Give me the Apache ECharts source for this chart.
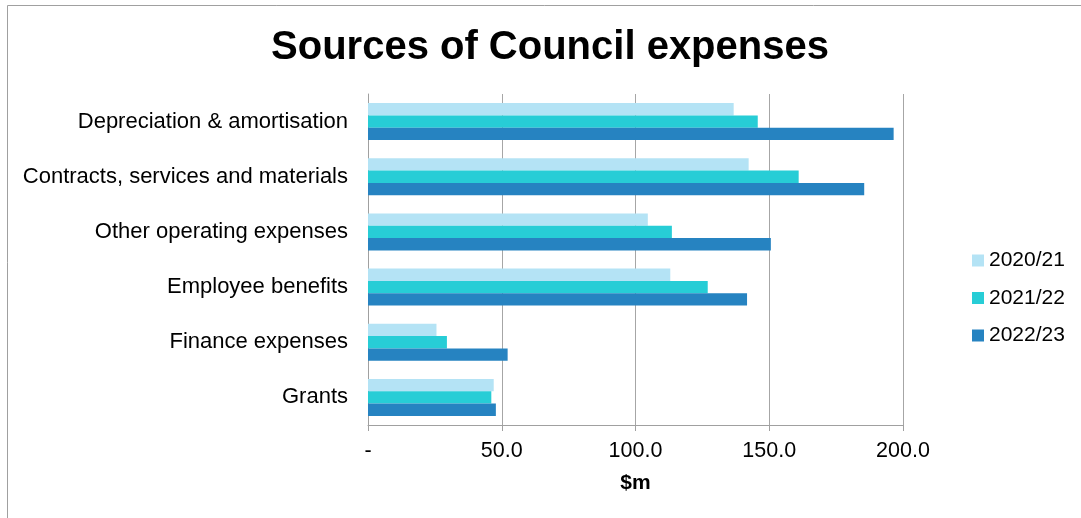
<!DOCTYPE html>
<html>
<head>
<meta charset="utf-8">
<script src="https://cdn.jsdelivr.net/npm/echarts@6/dist/echarts.min.js"></script>
<style>
  html, body { margin: 0; padding: 0; background: #ffffff; }
  #chart { width: 1081px; height: 518px; }
</style>
</head>
<body>
<div id="chart"></div>
<script>
// Expense categories, top to bottom
const categories = [
  'Depreciation & amortisation',
  'Contracts, services and materials',
  'Other operating expenses',
  'Employee benefits',
  'Finance expenses',
  'Grants'
];

// Expenses in $m by financial year
const fy2021 = [136.7, 142.3, 104.6, 113.0, 25.6, 47.0];
const fy2122 = [145.7, 161.0, 113.6, 127.0, 29.5, 46.1];
const fy2223 = [196.5, 185.5, 150.6, 141.7, 52.2, 47.8];

const seriesNames = ['2020/21', '2021/22', '2022/23'];
const seriesColors = ['#B4E3F5', '#27CDD6', '#2683C1'];

const FONT = '"Liberation Sans", Arial, sans-serif';

const chart = echarts.init(document.getElementById('chart'), null, { renderer: 'canvas' });

const seriesData = [fy2021, fy2122, fy2223];

chart.setOption({
  animation: false,
  backgroundColor: '#ffffff',
  textStyle: { fontFamily: FONT },
  graphic: [{
    type: 'rect',
    shape: { x: 7.5, y: 5.5, width: 1090, height: 530 },
    style: { fill: 'none', stroke: '#A0A0A0', lineWidth: 1 },
    silent: true,
    z: -1
  }],
  title: {
    text: 'Sources of Council expenses',
    left: 545,
    top: 23,
    textAlign: 'center',
    textStyle: { fontFamily: FONT, fontSize: 40, fontWeight: 'bold', color: '#000000' }
  },
  legend: {
    orient: 'vertical',
    left: 967,
    top: 245,
    itemWidth: 12,
    itemHeight: 12,
    itemGap: 16.5,
    icon: 'rect',
    data: seriesNames,
    textStyle: { fontFamily: FONT, fontSize: 21, color: '#000000' }
  },
  grid: {
    left: 368,
    right: 178,
    top: 94,
    bottom: 93,
    containLabel: false
  },
  xAxis: {
    type: 'value',
    min: 0,
    max: 200,
    interval: 50,
    name: '$m',
    nameLocation: 'middle',
    nameGap: 48,
    nameTextStyle: { fontFamily: FONT, fontSize: 21, fontWeight: 'bold', color: '#000000' },
    axisLine: { show: true, lineStyle: { color: '#A0A0A0', width: 1 } },
    axisTick: { show: true, length: 6, lineStyle: { color: '#A0A0A0' } },
    axisLabel: {
      fontFamily: FONT,
      fontSize: 21.5,
      color: '#000000',
      margin: 15,
      formatter: v => (v === 0 ? '-' : v.toFixed(1))
    },
    splitLine: { show: true, lineStyle: { color: '#A6A6A6', width: 1 } }
  },
  yAxis: {
    type: 'category',
    inverse: true,
    data: categories,
    axisLine: { show: true, lineStyle: { color: '#A0A0A0', width: 1 } },
    axisTick: { show: false },
    axisLabel: { fontFamily: FONT, fontSize: 22, color: '#000000', margin: 20 }
  },
  series: seriesNames.map((name, i) => ({
    name,
    type: 'bar',
    data: seriesData[i],
    barGap: '0%',
    barCategoryGap: '33%',
    itemStyle: { color: seriesColors[i] }
  }))
});
</script>
</body>
</html>
